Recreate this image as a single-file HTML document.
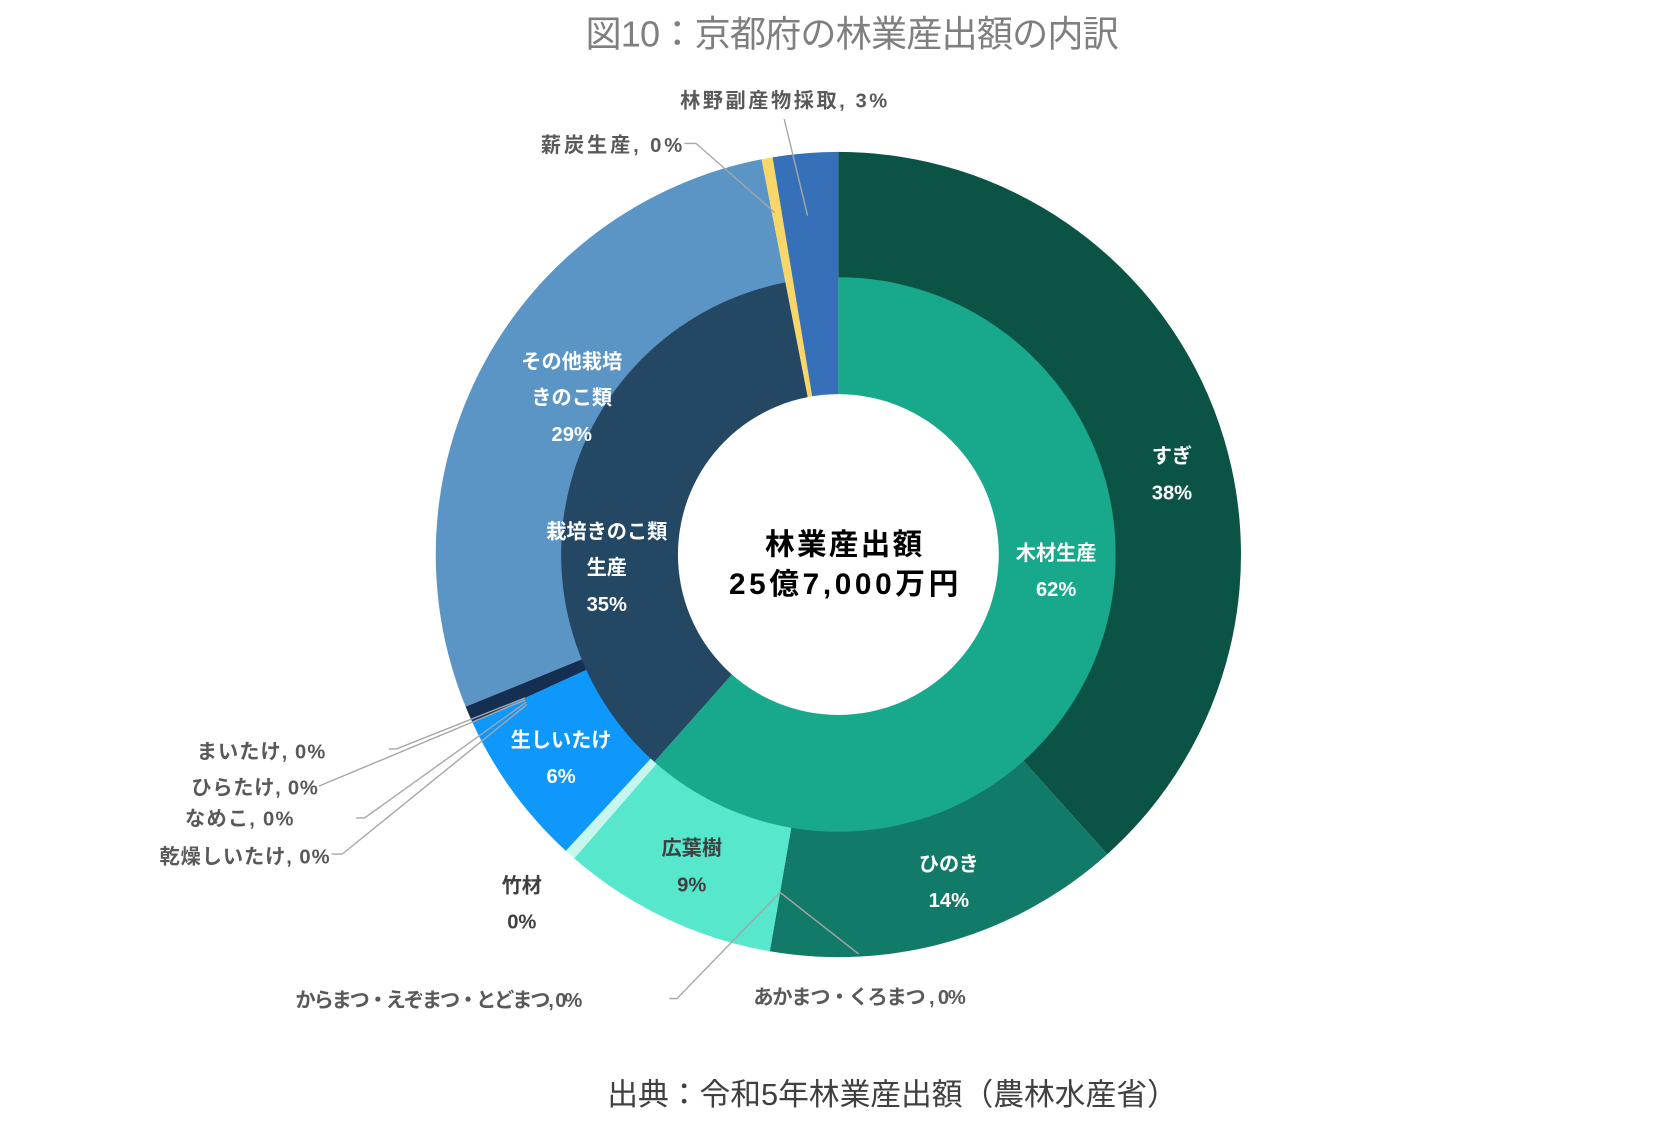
<!DOCTYPE html>
<html><head><meta charset="utf-8"><style>
html,body{margin:0;padding:0;background:#fff;width:1664px;height:1125px;overflow:hidden}
svg{display:block}
text{font-family:"Liberation Sans","Noto Sans CJK JP",sans-serif}
</style></head><body>
<svg id="s" width="1664" height="1125" viewBox="0 0 1566 1059" xmlns="http://www.w3.org/2000/svg">
<g id="arcs"></g>
<circle cx="789" cy="522" r="151" fill="#fff"/>
<text x="802" y="44" font-size="34" fill="#7f7f7f" text-anchor="middle" textLength="502">図10：京都府の林業産出額の内訳</text>
<text x="840" y="1040" font-size="29" fill="#404040" text-anchor="middle" textLength="537">出典：令和5年林業産出額（農林水産省）</text>
<g font-weight="bold" fill="#000" text-anchor="middle">
<text x="794" y="522" font-size="28" textLength="148">林業産出額</text>
<text x="794" y="559" font-size="28" textLength="216">25億7,000万円</text>
</g>
<g font-weight="bold" font-size="19" fill="#fff" text-anchor="middle">
<text x="1103" y="436">すぎ</text><text x="1103" y="470">38%</text>
<text x="893" y="820">ひのき</text><text x="893" y="854">14%</text>
<text x="994" y="527">木材生産</text><text x="994" y="561">62%</text>
<text x="571" y="507">栽培きのこ類</text><text x="571" y="541">生産</text><text x="571" y="575">35%</text>
<text x="538" y="347">その他栽培</text><text x="538" y="381">きのこ類</text><text x="538" y="415">29%</text>
<text x="528" y="703">生しいたけ</text><text x="528" y="737">6%</text>
</g>
<g font-weight="bold" font-size="19" fill="#404040" text-anchor="middle">
<text x="651" y="805">広葉樹</text><text x="651" y="839">9%</text>
<text x="491" y="840">竹材</text><text x="491" y="874">0%</text>
</g>
<g font-weight="bold" font-size="19" fill="#595959">
<text x="640" y="101" textLength="195">林野副産物採取, 3%</text>
<text x="509" y="143" textLength="133">薪炭生産, 0%</text>
<text x="185" y="714" textLength="121">まいたけ, 0%</text>
<text x="180" y="748" textLength="119">ひらたけ, 0%</text>
<text x="174" y="777" textLength="102">なめこ, 0%</text>
<text x="150" y="813" textLength="160">乾燥しいたけ, 0%</text>
<text x="278" y="948" textLength="270">からまつ・えぞまつ・とどまつ, 0%</text>
<text x="709" y="945" textLength="200">あかまつ・くろまつ , 0%</text>
</g>
<g stroke="#a6a6a6" stroke-width="1.3" fill="none">
<polyline points="738,112 760,203"/>
<polyline points="644,135 655,135 729,200"/>
<polyline points="366,705 373,705 494,657"/>
<polyline points="300,740 494,659"/>
<polyline points="335,770 343,770 495,661"/>
<polyline points="312,804 322,804 496,663"/>
<polyline points="630,940 637,940 734,840"/>
<polyline points="808,898 734,840"/>
</g>
</svg>
<script>
var cx=789,cy=522;
function P(r,a){a=a*Math.PI/180;return [cx+r*Math.sin(a),cy-r*Math.cos(a)];}
function arc(r0,r1,a0,a1,c){var l=(a1-a0)>180?1:0;var p0=P(r1,a0),p1=P(r1,a1),p2=P(r0,a1),p3=P(r0,a0);
return '<path d="M'+p0+' A'+r1+','+r1+' 0 '+l+' 1 '+p1+' L'+p2+' A'+r0+','+r0+' 0 '+l+' 0 '+p3+'Z" fill="'+c+'"/>';}
var h='';
var outer=[[0,138.1,'#0b5445'],[138.1,189.8,'#127a68'],[189.8,221,'#56e7cd'],[221,222.6,'#c6f6ee'],[222.6,245.4,'#0f98fc'],[245.4,247.8,'#142f52'],[247.8,349,'#5b95c5'],[349,350.6,'#f8d667'],[350.6,360,'#3570b8']];
outer.forEach(function(s){h+=arc(260,379,s[0],s[1],s[2]);});
var inner=[[0,221.6,'#18a88c'],[221.6,349,'#244764'],[349,350.6,'#f8d667'],[350.6,360,'#3570b8']];
inner.forEach(function(s){h+=arc(150,261,s[0],s[1],s[2]);});
document.getElementById('arcs').innerHTML=h;
</script>
</body></html>
